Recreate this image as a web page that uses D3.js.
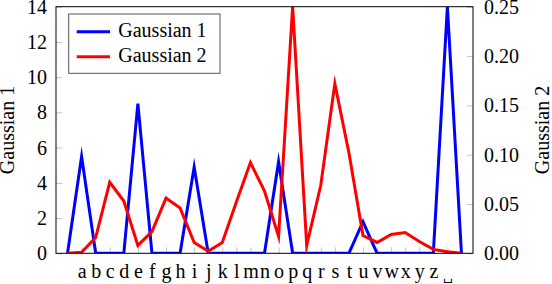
<!DOCTYPE html>
<html>
<head>
<meta charset="utf-8">
<script src="https://cdn.jsdelivr.net/npm/d3@7"></script>
<style>
  body { margin: 0; background: #fff; }
  text { font-family: "Liberation Serif", "DejaVu Serif", serif; }
</style>
</head>
<body>
<div id="chart"></div>
<script>
// categories: empty pad, a..z, open box (space), empty pad
const categories = ["", "a","b","c","d","e","f","g","h","i","j","k","l","m",
  "n","o","p","q","r","s","t","u","v","w","x","y","z","\u2423", ""]
const gauss1 = [0, 5.5, 0, 0, 0, 8.5, 0, 0, 0, 4.9, 0, 0, 0, 0, 0, 5.2, 0, 0, 0, 0, 0, 1.8, 0, 0, 0, 0, 0, 14, 0]
const gauss2 = [0, 0.001, 0.016, 0.072, 0.053, 0.008, 0.022, 0.056, 0.046, 0.011, 0.002, 0.011, 0.052, 0.092,
  0.063, 0.017, 0.25, 0.008, 0.069, 0.172, 0.102, 0.018, 0.011, 0.019, 0.021, 0.012, 0.004, 0.0015, 0]
const leftTicks = [0, 2, 4, 6, 8, 10, 12, 14]
const rightTicks = [0, 0.05, 0.10, 0.15, 0.20, 0.25]
const seriesNames = ["Gaussian 1", "Gaussian 2"]
const seriesColors = ["#0000ff", "#ff0000"]

const WD = 552, HT = 284
const margin = { left: 56, right: 79, top: 6.7, bottom: 30.7 }
const width = WD - margin.left - margin.right
const height = HT - margin.top - margin.bottom

var svg = d3.select("#chart").append("svg")
    .attr("width", WD)
    .attr("height", HT)

var g = svg.append("g")
    .attr("transform", "translate(" + margin.left + "," + margin.top + ")")

const xs = d3.scalePoint()
    .domain(d3.range(categories.length))
    .range([0, width])
    .padding(0.82)

const y1 = d3.scaleLinear().domain([0, 14]).range([height, 0])
const y2 = d3.scaleLinear().domain([0, 0.25]).range([height, 0])

// clip to plot area
svg.append("defs").append("clipPath").attr("id", "plotclip")
  .append("rect").attr("x", 0).attr("y", 0).attr("width", width).attr("height", height)

// axes (ticks inward, light gray)
var axL = g.append("g")
    .call(d3.axisLeft(y1).tickValues(leftTicks).tickSize(-6).tickPadding(9))
var axR = g.append("g")
    .attr("transform", "translate(" + width + ",0)")
    .call(d3.axisRight(y2).tickValues(rightTicks).tickSize(-6).tickPadding(11).tickFormat(d3.format(".2f")))
var axB = g.append("g")
    .attr("transform", "translate(0," + height + ")")
    .call(d3.axisBottom(xs).tickValues(d3.range(1, categories.length - 1))
      .tickSize(-6).tickPadding(11).tickFormat(i => categories[i]))

;[axL, axR, axB].forEach(ax => {
  ax.select(".domain").remove()
  ax.selectAll(".tick line").attr("stroke", "#b4b4b4").attr("stroke-width", 0.8)
  ax.selectAll(".tick text").attr("font-size", "20px").attr("fill", "#000")
    .style("font-family", '"Liberation Serif", "DejaVu Serif", serif')
})
// the space symbol is drawn small in the reference
axB.selectAll(".tick text").filter(i => categories[i] === "\u2423")
    .attr("font-size", "13px").attr("y", 17)

// lines
var plot = g.append("g").attr("clip-path", "url(#plotclip)")
const line1 = d3.line().x((d, i) => xs(i)).y(d => y1(d))
const line2 = d3.line().x((d, i) => xs(i)).y(d => y2(d))

plot.append("path").datum(gauss1)
    .attr("d", line1)
    .attr("fill", "none")
    .attr("stroke", seriesColors[0])
    .attr("stroke-width", 3)
    .attr("stroke-linejoin", "miter")
    .attr("stroke-miterlimit", 10)

plot.append("path").datum(gauss2)
    .attr("d", line2)
    .attr("fill", "none")
    .attr("stroke", seriesColors[1])
    .attr("stroke-width", 3)
    .attr("stroke-linejoin", "miter")
    .attr("stroke-miterlimit", 10)

// frame
g.append("rect")
    .attr("x", 0).attr("y", 0)
    .attr("width", width).attr("height", height)
    .attr("fill", "none")
    .attr("stroke", "#000")
    .attr("stroke-width", 1)

// axis titles
svg.append("text")
    .attr("transform", "translate(14," + (margin.top + height / 2) + ") rotate(-90)")
    .attr("text-anchor", "middle")
    .attr("font-size", "20px")
    .text(seriesNames[0])

svg.append("text")
    .attr("transform", "translate(549," + (margin.top + height / 2) + ") rotate(-90)")
    .attr("text-anchor", "middle")
    .attr("font-size", "20px")
    .text(seriesNames[1])

// legend
var leg = svg.append("g").attr("transform", "translate(68.7,14)")
leg.append("rect")
    .attr("width", 151.3).attr("height", 59.3)
    .attr("fill", "#fff")
    .attr("stroke", "#555")
    .attr("stroke-width", 1)

seriesNames.forEach((name, i) => {
  leg.append("line")
      .attr("x1", 8).attr("x2", 41.3)
      .attr("y1", 17.7 + i * 25).attr("y2", 17.7 + i * 25)
      .attr("stroke", seriesColors[i])
      .attr("stroke-width", 3)
  leg.append("text")
      .attr("x", 49.6).attr("y", 23 + i * 25)
      .attr("font-size", "20px")
      .text(name)
})
</script>
</body>
</html>
